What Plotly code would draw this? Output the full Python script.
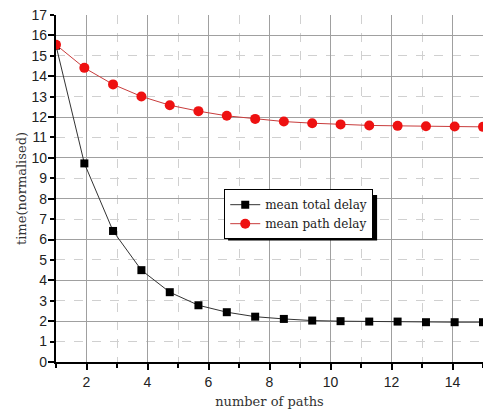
import plotly.graph_objects as go

paths = [1, 1.93, 2.87, 3.8, 4.73, 5.67, 6.6, 7.53, 8.47, 9.4, 10.33, 11.27, 12.2, 13.13, 14.07, 15]
total_delay = [15.5, 9.73, 6.42, 4.5, 3.42, 2.78, 2.44, 2.22, 2.11, 2.03, 2.0, 1.98, 1.98, 1.95, 1.95, 1.95]
path_delay = [15.54, 14.41, 13.6, 13.01, 12.58, 12.29, 12.06, 11.91, 11.78, 11.7, 11.64, 11.59, 11.57, 11.55, 11.54, 11.52]
y_ticks = list(range(0, 18))

fig = go.Figure()
fig.add_trace(go.Scatter(
    x=paths, y=total_delay, mode="lines+markers", name="mean total delay",
    line=dict(color="#333333", width=1),
    marker=dict(symbol="square", size=8, color="black"),
))
fig.add_trace(go.Scatter(
    x=paths, y=path_delay, mode="lines+markers", name="mean path delay",
    line=dict(color="#c83c3c", width=1),
    marker=dict(symbol="circle", size=10, color="#ee1111"),
))

serif = "DejaVu Serif, Liberation Serif, serif"
sans = "Liberation Sans, Arial, sans-serif"

fig.update_layout(
    width=483, height=415,
    margin=dict(l=56, r=0, t=15, b=53),
    paper_bgcolor="white", plot_bgcolor="white",
    showlegend=True,
    legend=dict(
        x=0.394, y=0.426, xanchor="left", yanchor="middle",
        bgcolor="white", bordercolor="black", borderwidth=1,
        font=dict(family=serif, size=12, color="#222"),
        tracegroupgap=0, itemwidth=30,
    ),
    xaxis=dict(
        range=[1, 15], dtick=2, tick0=0,
        showgrid=True, gridcolor="#a0a0a0", gridwidth=1,
        zeroline=False, showline=True, linecolor="black", linewidth=2,
        ticks="outside", ticklen=6, tickwidth=1.5, tickcolor="black",
        minor=dict(dtick=1, tick0=0, ticks="outside", ticklen=4, tickcolor="black",
                   showgrid=True, gridcolor="#d0d0d0", griddash="dash", gridwidth=1),
        tickfont=dict(family=sans, size=14, color="#222"),
        title=dict(text="number of paths", font=dict(family=serif, size=13, color="#333"), standoff=8),
    ),
    yaxis=dict(
        range=[0, 17], dtick=2, tick0=0,
        showgrid=True, gridcolor="#a0a0a0", gridwidth=1,
        zeroline=False, showline=True, linecolor="black", linewidth=2,
        ticks="outside", ticklen=6, tickwidth=1.5, tickcolor="black",
        showticklabels=False,
        minor=dict(dtick=1, tick0=0, ticks="outside", ticklen=4, tickcolor="black",
                   showgrid=True, gridcolor="#d0d0d0", griddash="dash", gridwidth=1),
        title=dict(text=""),
    ),
    yaxis2=dict(
        overlaying="y", side="left", range=[0, 17],
        tickvals=y_ticks, ticks="", showgrid=False, zeroline=False, showline=False,
        tickfont=dict(family=sans, size=14, color="#222"),
        ticklabelstandoff=8,
        title=dict(text="time(normalised)", font=dict(family=serif, size=13, color="#333"), standoff=1),
    ),
)
# invisible helper trace to activate yaxis2
fig.add_trace(go.Scatter(x=[paths[0]], y=[path_delay[0]], yaxis="y2", mode="markers",
                         marker=dict(opacity=0), showlegend=False, hoverinfo="skip"))

# legend drop shadow
fig.add_shape(type="rect", xref="paper", yref="paper",
              x0=0.403, x1=0.752, y0=0.350, y1=0.481,
              fillcolor="black", line=dict(width=0), layer="above")

fig.write_html("out.html")
